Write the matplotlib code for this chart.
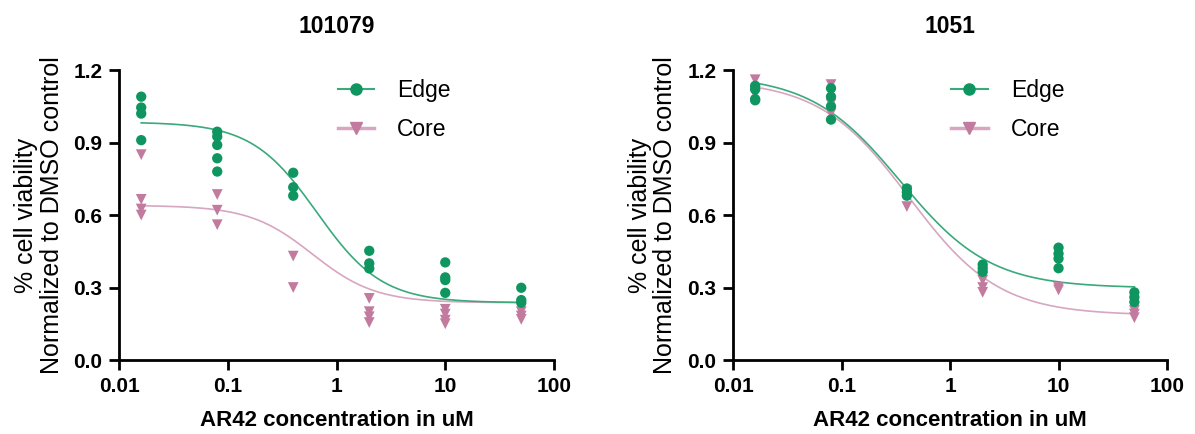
import numpy as np
import matplotlib
matplotlib.use("Agg")
import matplotlib.pyplot as plt
from matplotlib.ticker import FixedLocator, NullLocator

plt.rcParams['font.family'] = ['Liberation Sans', 'DejaVu Sans']

# AR42 concentrations (uM)
conc = [0.016, 0.08, 0.4, 2, 10, 50]

# replicate viability values, one list per concentration
edge_101079 = [[1.09, 1.045, 1.02, 0.91],
               [0.945, 0.925, 0.89, 0.835, 0.78],
               [0.775, 0.715, 0.68],
               [0.452, 0.40, 0.379],
               [0.404, 0.342, 0.331, 0.278],
               [0.299, 0.248, 0.237]]
core_101079 = [[0.85, 0.665, 0.625, 0.60],
               [0.685, 0.62, 0.56],
               [0.43, 0.30],
               [0.255, 0.20, 0.179, 0.155],
               [0.21, 0.19, 0.165, 0.15],
               [0.20, 0.182, 0.168]]
edge_1051 = [[1.135, 1.12, 1.08, 1.075],
             [1.125, 1.09, 1.05, 0.995],
             [0.71, 0.695, 0.68],
             [0.395, 0.38, 0.365],
             [0.465, 0.44, 0.42, 0.38],
             [0.28, 0.26, 0.24]]
core_1051 = [[1.16, 1.11, 1.10],
             [1.14, 1.06, 1.02],
             [0.70, 0.635],
             [0.33, 0.30, 0.28],
             [0.30, 0.29],
             [0.205, 0.19, 0.175]]

# 4PL fit parameters: top, bottom, IC50, hill
fit_edge_101079 = (0.985, 0.237, 0.66, 1.45)
fit_core_101079 = (0.64, 0.237, 0.60, 1.5)
fit_edge_1051 = (1.18, 0.298, 0.35, 1.05)
fit_core_1051 = (1.16, 0.185, 0.42, 1.05)

titles = ['101079', '1051']
xticks = [0.01, 0.1, 1, 10, 100]
xticklabels = ['0.01', '0.1', '1', '10', '100']
yticks = [0.0, 0.3, 0.6, 0.9, 1.2]

green = '#0f9660'
green_line = '#3aa97c'
pink = '#c27b9f'
pink_line = '#d7a6c0'


def four_pl(x, p):
    top, bottom, ic50, hill = p
    return bottom + (top - bottom) / (1 + (x / ic50) ** hill)


def draw_panel(ax, title, edge, core, fit_e, fit_c):
    xs = np.logspace(np.log10(conc[0]), np.log10(conc[-1]), 300)
    ax.plot(xs, four_pl(xs, fit_c), color=pink_line, lw=1.2, zorder=2)
    ax.plot(xs, four_pl(xs, fit_e), color=green_line, lw=1.2, zorder=3)
    for c, vals in zip(conc, core):
        ax.scatter([c] * len(vals), vals, marker='v', s=60, color=pink,
                   edgecolors='none', zorder=4)
    for c, vals in zip(conc, edge):
        ax.scatter([c] * len(vals), vals, marker='o', s=55, color=green,
                   edgecolors='none', zorder=5)

    # legend handles
    ax.plot([], [], color=green_line, lw=1.5, marker='o', ms=8, mfc=green,
            mec=green, label='Edge')
    ax.plot([], [], color=pink_line, lw=2.5, marker='v', ms=8, mfc=pink,
            mec=pink, label='Core')
    ax.legend(loc='upper left', bbox_to_anchor=(0.455, 1.04), frameon=False,
              fontsize=16.5, handlelength=1.6, handletextpad=1.0,
              labelspacing=0.7)

    ax.set_xscale('log')
    ax.set_xlim(0.01, 100)
    ax.set_ylim(0, 1.2)
    ax.xaxis.set_major_locator(FixedLocator(xticks))
    ax.xaxis.set_minor_locator(NullLocator())
    ax.set_xticklabels(xticklabels)
    ax.set_yticks(yticks)
    ax.set_yticklabels([f'{v:.1f}' for v in yticks])
    for lab in ax.get_xticklabels() + ax.get_yticklabels():
        lab.set_fontweight('bold')
    ax.tick_params(axis='both', labelsize=15, width=2, length=7,
                   direction='out', pad=5)
    for s in ['top', 'right']:
        ax.spines[s].set_visible(False)
    for s in ['left', 'bottom']:
        ax.spines[s].set_linewidth(2)
    ax.set_title(title, fontsize=16.5, fontweight='bold', pad=27)
    ax.set_xlabel('AR42 concentration in uM', fontsize=16, fontweight='bold',
                  labelpad=10)
    ax.set_ylabel('% cell viability\nNormalized to DMSO control', fontsize=18,
                  labelpad=7, linespacing=1.1)


fig = plt.figure(figsize=(11.95, 4.34), dpi=100)
ax1 = fig.add_axes([0.0996, 0.1705, 0.364, 0.668])
ax2 = fig.add_axes([0.6134, 0.1705, 0.3632, 0.668])
draw_panel(ax1, titles[0], edge_101079, core_101079, fit_edge_101079, fit_core_101079)
draw_panel(ax2, titles[1], edge_1051, core_1051, fit_edge_1051, fit_core_1051)

fig.savefig('out.png', dpi=100)
